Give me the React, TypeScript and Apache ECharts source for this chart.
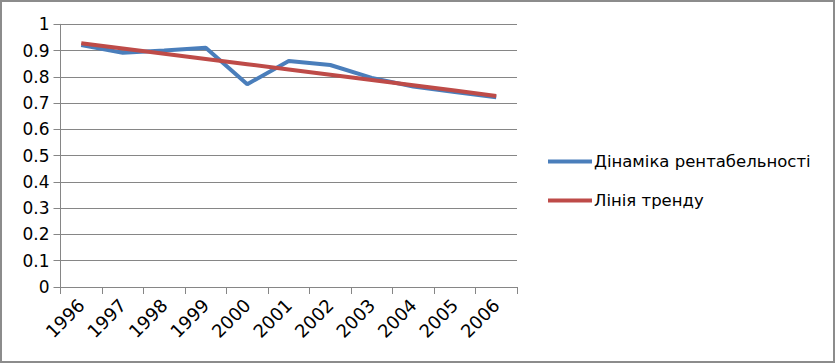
import React, { useEffect, useRef } from "react";
import * as echarts from "echarts";

const years = ["1996", "1997", "1998", "1999", "2000", "2001", "2002", "2003", "2004", "2005", "2006"];
const profitability = [0.921, 0.892, 0.9, 0.911, 0.772, 0.86, 0.845, 0.796, 0.763, 0.742, 0.722];
const trend = [0.928, 0.908, 0.888, 0.868, 0.848, 0.828, 0.808, 0.788, 0.768, 0.748, 0.727];
const seriesNames = ["Дінаміка рентабельності", "Лінія тренду"];

const FONT = "DejaVu Sans";

export default function App() {
  const ref = useRef<HTMLDivElement>(null);
  useEffect(() => {
    document.body.style.margin = "0";
    const chart = echarts.init(ref.current!, null, { renderer: "svg" });
    chart.setOption({
      animation: false,
      backgroundColor: "#ffffff",
      grid: { left: 60.5, right: 318, top: 24.3, bottom: 76, containLabel: false },
      xAxis: {
        type: "category",
        data: years,
        boundaryGap: true,
        axisLine: { lineStyle: { color: "#868686", width: 1 } },
        axisTick: { show: true, length: 7, interval: 0, lineStyle: { color: "#868686" } },
        axisLabel: {
          interval: 0,
          rotate: 45,
          margin: 15,
          color: "#000",
          fontFamily: FONT,
          fontSize: 18,
        },
        splitLine: { show: false },
      },
      yAxis: {
        type: "value",
        min: 0,
        max: 1,
        interval: 0.1,
        axisLine: { show: true, lineStyle: { color: "#868686", width: 1 } },
        axisTick: { show: true, length: 7, lineStyle: { color: "#868686" } },
        axisLabel: { color: "#000", fontFamily: FONT, fontSize: 17, margin: 11 },
        splitLine: { lineStyle: { color: "#868686", width: 1 } },
      },
      legend: {
        orient: "vertical",
        left: 548,
        top: 153,
        padding: 0,
        itemWidth: 44,
        itemHeight: 4,
        itemGap: 22,
        icon: "rect",
        textStyle: { color: "#000", fontFamily: FONT, fontSize: 16.5, padding: [0, 0, 0, -3] },
        data: seriesNames,
      },
      series: [
        {
          name: seriesNames[0],
          type: "line",
          data: profitability,
          symbol: "none",
          lineStyle: { color: "#4a7ebb", width: 4 },
          itemStyle: { color: "#4a7ebb" },
        },
        {
          name: seriesNames[1],
          type: "line",
          data: trend,
          symbol: "none",
          lineStyle: { color: "#be4b48", width: 4 },
          itemStyle: { color: "#be4b48" },
        },
      ],
      graphic: [
        {
          type: "rect",
          shape: { x: 1, y: 1, width: 833, height: 361 },
          style: { fill: "none", stroke: "#8c8c8c", lineWidth: 2 },
          silent: true,
        },
      ],
    });
    return () => chart.dispose();
  }, []);
  return <div ref={ref} style={{ width: 835, height: 363 }} />;
}
